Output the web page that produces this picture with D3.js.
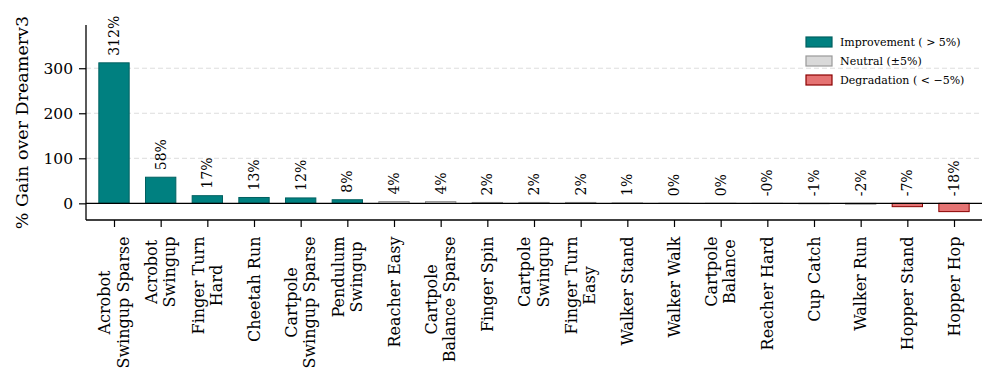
<!DOCTYPE html>
<html>
<head>
<meta charset="utf-8">
<script src="https://cdn.jsdelivr.net/npm/d3@7"></script>
<style>
  body { margin: 0; background: #fff; }
  text { font-family: "DejaVu Serif", serif; fill: #000; }
</style>
</head>
<body>
<svg width="996" height="383"></svg>
<script>
// Task names (multi-line labels split on "\n")
const tasks = [
  "Acrobot\nSwingup Sparse", "Acrobot\nSwingup", "Finger Turn\nHard", "Cheetah Run",
  "Cartpole\nSwingup Sparse", "Pendulum\nSwingup", "Reacher Easy", "Cartpole\nBalance Sparse",
  "Finger Spin", "Cartpole\nSwingup", "Finger Turn\nEasy", "Walker Stand", "Walker Walk",
  "Cartpole\nBalance", "Reacher Hard", "Cup Catch", "Walker Run", "Hopper Stand", "Hopper Hop"
];
// % gain over Dreamerv3
const gains = [312, 58, 17, 13, 12, 8, 4, 4, 2, 2, 2, 1, 0.2, 0.1, -0.3, -1, -2, -7.4, -18.4];
const yTicks = [0, 100, 200, 300];
const legendLabels = ["Improvement ( > 5%)", "Neutral (\u00b15%)", "Degradation ( < \u22125%)"];

const fills = { up: "#008080", flat: "#d9d9d9", down: "#e57373" };
const edges = { up: "#006060", flat: "#999999", down: "#8b0000" };
function kind(v) { return v > 5 ? "up" : (v < -5 ? "down" : "flat"); }

const svg = d3.select("svg");
const axLeft = 86, axRight = 982, axTop = 25, axBottom = 220;

const x = d3.scaleLinear().domain([-0.6, tasks.length - 0.4]).range([axLeft, axRight]);
const y = d3.scaleLinear().domain([-37, 396]).range([axBottom, axTop]);
const bw = 0.65;

// grid
svg.append("g")
  .selectAll("line")
  .data(yTicks.filter(d => d !== 0))
  .enter().append("line")
  .attr("x1", axLeft).attr("x2", axRight)
  .attr("y1", d => y(d)).attr("y2", d => y(d))
  .attr("stroke", "#dddddd")
  .attr("stroke-width", 1)
  .attr("stroke-dasharray", "5,3");

// bars
svg.append("g")
  .selectAll("rect")
  .data(gains)
  .enter().append("rect")
  .attr("x", (d, i) => x(i - bw / 2))
  .attr("width", x(bw) - x(0))
  .attr("y", d => y(Math.max(d, 0)))
  .attr("height", d => Math.abs(y(d) - y(0)))
  .attr("fill", d => fills[kind(d)])
  .attr("stroke", d => edges[kind(d)])
  .attr("stroke-width", 1);

// zero line
svg.append("line")
  .attr("x1", axLeft).attr("x2", axRight)
  .attr("y1", y(0)).attr("y2", y(0))
  .attr("stroke", "#000").attr("stroke-width", 1.3);

// value labels
svg.append("g")
  .selectAll("text")
  .data(gains)
  .enter().append("text")
  .attr("transform", (d, i) => `translate(${x(i) + 5},${y(Math.max(d, 0)) - 7}) rotate(-90)`)
  .attr("font-size", "14px")
  .text(d => d.toFixed(0) + "%");

// axes
const yAxis = d3.axisLeft(y).tickValues(yTicks).tickSize(7).tickPadding(6);
const gy = svg.append("g").attr("transform", `translate(${axLeft},0)`).call(yAxis);
gy.select(".domain").attr("d", `M0,${axTop}V${axBottom}`).attr("stroke-width", 1.3);
gy.selectAll(".tick line").attr("stroke-width", 1.2);
gy.selectAll(".tick text").attr("font-size", "15.5px");

const xAxis = d3.axisBottom(x).tickValues(d3.range(tasks.length)).tickSize(7).tickFormat("");
const gx = svg.append("g").attr("transform", `translate(0,${axBottom})`).call(xAxis);
gx.select(".domain").attr("d", `M${axLeft},0H${axRight}`).attr("stroke-width", 1.3);
gx.selectAll(".tick line").attr("stroke-width", 1.2);

// x tick labels, rotated, centered lines, anchored at top
const lineGap = 18.5;
tasks.forEach((t, i) => {
  const lines = t.split("\n");
  const g = svg.append("g")
    .attr("transform", `translate(${x(i)},${axBottom + 16.5}) rotate(-90)`);
  const texts = lines.map((s, k) => g.append("text")
    .attr("font-size", "16px")
    .attr("text-anchor", "middle")
    .attr("y", (k - (lines.length - 1) / 2) * lineGap + 5.5)
    .text(s));
  const w = d3.max(texts, tx => tx.node().getComputedTextLength());
  texts.forEach(tx => tx.attr("x", -w / 2));
});

// y label
svg.append("text")
  .attr("transform", `translate(28,${(axTop + axBottom) / 2}) rotate(-90)`)
  .attr("text-anchor", "middle")
  .attr("font-size", "17.5px")
  .text("% Gain over Dreamerv3");

// legend
const leg = svg.append("g").attr("transform", "translate(806,37)");
["up", "flat", "down"].forEach((k, i) => {
  leg.append("rect")
    .attr("x", 0).attr("y", i * 19)
    .attr("width", 26).attr("height", 10)
    .attr("fill", fills[k]).attr("stroke", edges[k]).attr("stroke-width", 1.2);
  leg.append("text")
    .attr("x", 34).attr("y", i * 19 + 9)
    .attr("font-size", "11px")
    .text(legendLabels[i]);
});
</script>
</body>
</html>
